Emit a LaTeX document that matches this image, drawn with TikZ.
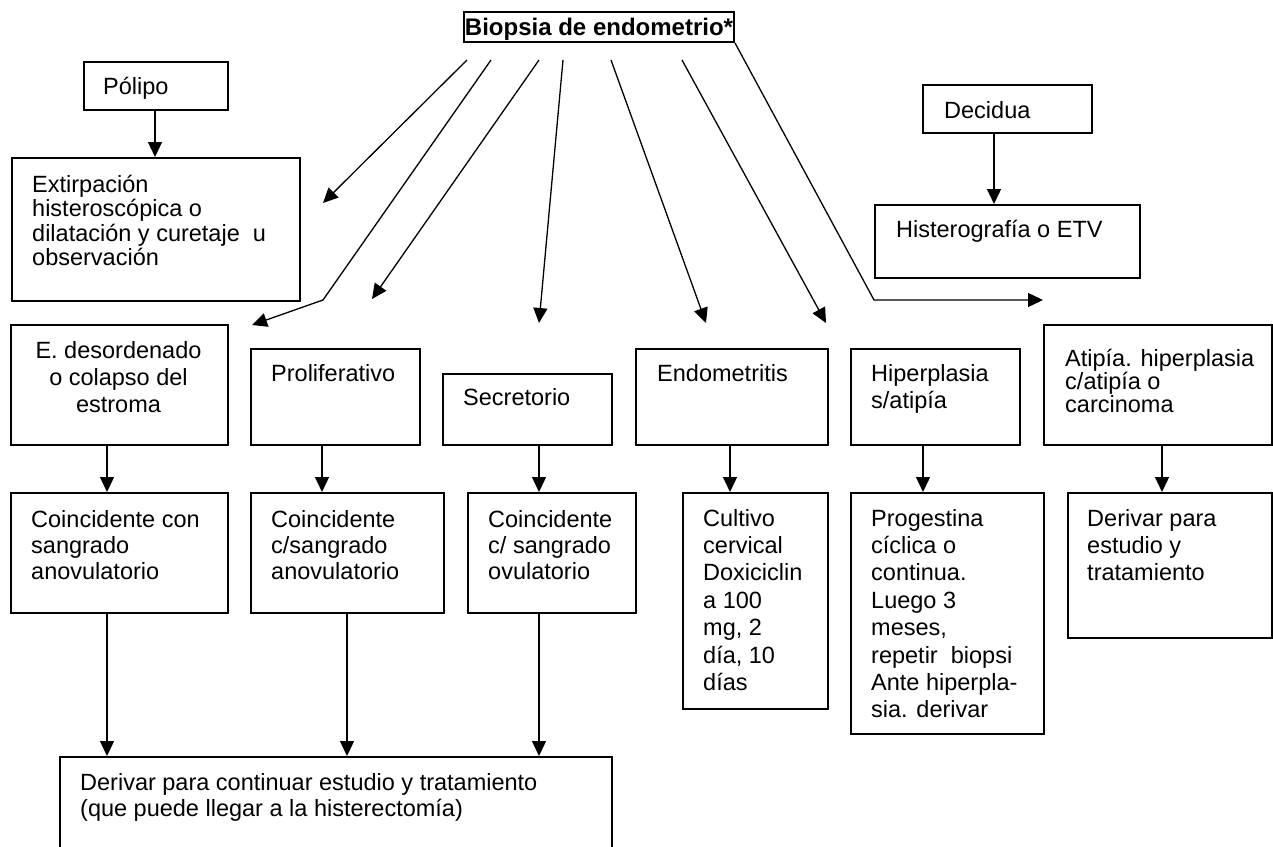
\documentclass[tikz,border=0pt]{standalone}
\usepackage{fontspec}
\setmainfont{Liberation Sans}
\usetikzlibrary{arrows.meta,calc}
\newcommand\bt[2]{\parbox[t]{700pt}{\raggedright\fontsize{23.5pt}{#1}\selectfont #2}}
\newcommand\vlink[3]{\path ([xshift=#2pt]#1.south west) coordinate (tmp); \draw[arr] (tmp) -- (tmp |- #3.north);}
\begin{document}
\begin{tikzpicture}[x=1pt,y=-1pt,
  box/.style={draw, line width=1.5pt, inner sep=0pt, anchor=north west},
  txt/.style={anchor=base west, inner sep=0pt},
  arr/.style={line width=1.3pt, -{Triangle[length=15pt,width=14pt]}}]
\useasboundingbox (0,0) rectangle (1273,846);

% title
\node[draw, line width=2pt, inner sep=0pt, minimum width=270pt, minimum height=30pt,
      text height=18pt, text depth=2pt,
      font=\bfseries\fontsize{24pt}{28pt}\selectfont] (title) at (599,27) {Biopsia de endometrio*};

% boxes
\node[box, minimum width=144pt, minimum height=48pt]  (polipo) at (83,61) {};
\node[box, minimum width=288pt, minimum height=143pt] (extir)  at (11,157) {};
\node[box, minimum width=169pt, minimum height=48pt]  (decid)  at (922,84) {};
\node[box, minimum width=265pt, minimum height=73pt]  (hist)   at (874,204) {};
\node[box, minimum width=217pt, minimum height=120pt] (edes)   at (10,324) {};
\node[box, minimum width=169pt, minimum height=96pt]  (prolif) at (250,348) {};
\node[box, minimum width=169pt, minimum height=71pt]  (secr)   at (442,373) {};
\node[box, minimum width=192pt, minimum height=96pt]  (endo)   at (635,348) {};
\node[box, minimum width=169pt, minimum height=96pt]  (hiper)  at (850,348) {};
\node[box, minimum width=228pt, minimum height=120pt] (atip)   at (1043,324) {};
\node[box, minimum width=217pt, minimum height=120pt] (coincA) at (10,492) {};
\node[box, minimum width=193pt, minimum height=120pt] (coincB) at (250,492) {};
\node[box, minimum width=168pt, minimum height=120pt] (coincC) at (467,492) {};
\node[box, minimum width=145pt, minimum height=216pt] (cult)   at (682,492) {};
\node[box, minimum width=193pt, minimum height=241pt] (prog)   at (850,492) {};
\node[box, minimum width=204pt, minimum height=145pt] (deriv)  at (1067,492) {};
\node[box, minimum width=552pt, minimum height=110pt] (final)  at (59,756) {};

% texts
\node[txt] (tpolipo) at (103,94)  {\bt{25pt}{Pólipo}};
\node[txt] (textir)  at (32,192)  {\bt{24.5pt}{Extirpación\\histeroscópica o\\dilatación y curetaje\ \ u\\observación}};
\node[txt] (tdecid)  at (944,118) {\bt{25pt}{Decidua}};
\node[txt] (thist)   at (896,237) {\bt{25pt}{Histerografía o ETV}};
\node[anchor=base, inner sep=0pt] (tedes) at (118.5,358) {\parbox[t]{217pt}{\centering\fontsize{23.5pt}{27pt}\selectfont E. desordenado\\o colapso del\\estroma}};
\node[txt] (tprolif) at (271,381) {\bt{27pt}{Proliferativo}};
\node[txt] (tsecr)   at (463,405) {\bt{27pt}{Secretorio}};
\node[txt] (tendo)   at (657,381) {\bt{27pt}{Endometritis}};
\node[txt] (thiper)  at (871,381) {\bt{27pt}{Hiperplasia\\s/atipía}};
\node[txt] (tatip)   at (1065,366) {\bt{23pt}{Atipía. hiperplasia\\c/atipía o\\carcinoma}};
\node[txt] (tcoincA) at (31,527)  {\bt{26pt}{Coincidente con\\sangrado\\anovulatorio}};
\node[txt] (tcoincB) at (271,527) {\bt{26pt}{Coincidente\\c/sangrado\\anovulatorio}};
\node[txt] (tcoincC) at (488,527) {\bt{26pt}{Coincidente\\c/ sangrado\\ovulatorio}};
\node[txt] (tcult)   at (703,526) {\bt{27.4pt}{Cultivo\\cervical\\Doxiciclin\\a 100\\mg, 2\\día, 10\\días}};
\node[txt] (tprog)   at (871,526) {\bt{27.4pt}{Progestina\\cíclica o\\continua.\\Luego 3\\meses,\\repetir\ \ biopsi\\Ante hiperpla-\\sia. derivar}};
\node[txt] (tderiv)  at (1087,526) {\bt{27pt}{Derivar para\\estudio y\\tratamiento}};
\node[txt] (tfinal)  at (80,790)  {\bt{26pt}{Derivar para continuar estudio y tratamiento\\(que puede llegar a la histerectomía)}};

% arrows from the title
\coordinate (s1) at (467,60);  \coordinate (e1) at (323,203);
\coordinate (s2) at (491,60);  \coordinate (b2) at (323,300); \coordinate (e2) at (252,325);
\coordinate (s3) at (539,60);  \coordinate (e3) at (372,299);
\coordinate (s4) at (563,60);  \coordinate (e4) at (539,323);
\coordinate (s5) at (611,60);  \coordinate (e5) at (706,323);
\coordinate (s6) at (682,60);  \coordinate (e6) at (826,323);
\coordinate (b7) at (874,300); \coordinate (e7) at (1043,300);
\draw[arr] (s1) -- (e1);
\draw[arr] (s2) -- (b2) -- (e2);
\draw[arr] (s3) -- (e3);
\draw[arr] (s4) -- (e4);
\draw[arr] (s5) -- (e5);
\draw[arr] (s6) -- (e6);
\draw[arr] (title.south east) -- (b7) -- (e7);

% vertical links
\vlink{polipo}{72}{extir}
\vlink{decid}{72}{hist}
\vlink{edes}{97}{coincA}
\vlink{prolif}{72}{coincB}
\vlink{secr}{97}{coincC}
\vlink{endo}{95}{cult}
\vlink{hiper}{73}{prog}
\vlink{atip}{119}{deriv}
\vlink{coincA}{97}{final}
\vlink{coincB}{97}{final}
\vlink{coincC}{72}{final}
\end{tikzpicture}
\end{document}
